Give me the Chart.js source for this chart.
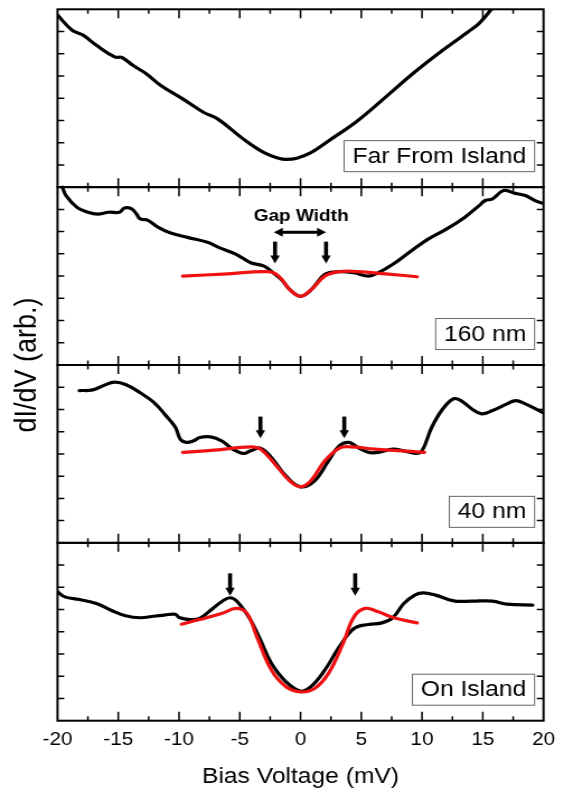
<!DOCTYPE html>
<html>
<head>
<meta charset="utf-8">
<script src="https://cdn.jsdelivr.net/npm/chart.js@4.4.1/dist/chart.umd.min.js"></script>
<style>
  html, body { margin: 0; padding: 0; background: #fff; }
  #plot { display: block; }
</style>
</head>
<body>
<canvas id="plot" width="504" height="792" style="width:564px;height:792px"></canvas>
<script>
// dI/dV spectra, four stacked panels on one shared bias axis.
// The source figure is stretched ~12% horizontally, so the canvas is drawn
// at 504px wide and shown at 564px.

/* ==============================
   DATA (bias in mV, dI/dV in panel units 0..8)
============================== */
const farBias = [-20, -18.8, -17.9, -16.8, -15.3, -14.7, -13.8, -12.7, -11.5, -9.7, -8.0, -6.8, -4.7, -3.0, -1.8, -1.2, -0.3, 0.85, 2.3, 4.7, 7.0, 9.4, 11.7, 13.8, 14.7, 15.7, 16.5];
const farDidv = [7.74, 7.06, 6.84, 6.38, 5.86, 5.83, 5.48, 5.10, 4.57, 3.97, 3.37, 3.06, 2.16, 1.55, 1.30, 1.25, 1.30, 1.55, 2.08, 2.99, 4.05, 5.18, 6.16, 6.99, 7.37, 8.0, 8.6];

const bias160 = [-19.6, -19.3, -18.4, -17.5, -16.7, -15.8, -14.9, -14.5, -13.9, -13.5, -13.2, -12.6, -11.7, -10.8, -9.3, -7.6, -6.7, -5.3, -4.1, -3.0, -2.1, -1.5, -0.9, 0, 0.9, 2.0, 3.2, 4.4, 5.6, 6.4, 7.6, 9.1, 10.5, 12.0, 13.5, 14.7, 15.2, 15.8, 16.7, 17.6, 18.5, 19.4, 19.9];
const didv160 = [8.0, 7.62, 7.09, 6.87, 6.79, 6.87, 6.87, 7.06, 7.02, 6.79, 6.57, 6.52, 6.19, 5.96, 5.74, 5.51, 5.28, 4.98, 4.60, 4.45, 4.08, 3.80, 3.40, 3.09, 3.40, 4.08, 4.20, 4.15, 4.0, 4.15, 4.53, 5.13, 5.66, 6.11, 6.64, 7.17, 7.40, 7.47, 7.85, 7.73, 7.62, 7.37, 7.28];
const fitBias160 = [-9.7, -6, -2.7, -1.8, -0.9, 0, 0.9, 2.0, 3.2, 4.7, 7, 9.6];
const fitDidv160 = [4.0, 4.1, 4.2, 4.0, 3.40, 3.09, 3.40, 4.0, 4.2, 4.2, 4.1, 3.97];

const bias40 = [-18.2, -17.1, -16.2, -15.3, -14.4, -13.2, -12.1, -11.2, -10.3, -9.9, -9.4, -8.8, -8.3, -7.4, -6.5, -5.6, -4.7, -4.1, -3.3, -2.4, -1.2, 0, 1.15, 2.3, 3.2, 4.0, 4.7, 5.6, 6.4, 7.6, 8.5, 9.5, 10.0, 10.8, 11.7, 12.6, 13.2, 14.1, 14.9, 15.8, 17.0, 17.7, 18.5, 19.9];
const didv40 = [6.85, 6.88, 7.08, 7.23, 7.12, 6.75, 6.33, 5.80, 5.20, 4.67, 4.52, 4.59, 4.74, 4.77, 4.59, 4.22, 4.02, 4.14, 4.26, 3.84, 3.01, 2.52, 2.79, 3.69, 4.37, 4.52, 4.29, 4.07, 4.07, 4.22, 4.14, 4.02, 4.14, 5.20, 6.02, 6.48, 6.40, 6.02, 5.80, 5.95, 6.25, 6.40, 6.25, 5.87];
const fitBias40 = [-9.7, -7.1, -4.1, -3.3, -2.1, -0.9, 0, 0.85, 2.0, 3.2, 4.1, 6.1, 10.2];
const fitDidv40 = [4.07, 4.17, 4.32, 4.22, 3.54, 2.79, 2.52, 2.79, 3.69, 4.26, 4.32, 4.22, 4.07];

const onBias = [-20, -19.4, -18.2, -16.8, -15.6, -14.4, -13.2, -12.1, -11.2, -10.3, -10.0, -9.1, -8.3, -7.4, -6.5, -5.8, -5.2, -4.1, -3.3, -2.4, -1.2, 0, 0.85, 2.0, 3.2, 4.4, 5.6, 6.7, 7.6, 8.5, 9.4, 10.1, 11.1, 12.6, 14.1, 15.8, 17.0, 19.1];
const onDidv = [5.80, 5.57, 5.45, 5.27, 4.97, 4.72, 4.63, 4.70, 4.75, 4.79, 4.64, 4.55, 4.60, 4.97, 5.35, 5.53, 5.35, 4.52, 3.63, 2.58, 1.75, 1.33, 1.53, 2.28, 3.33, 4.15, 4.33, 4.40, 4.64, 5.27, 5.65, 5.75, 5.65, 5.39, 5.38, 5.38, 5.24, 5.20];
const fitBiasOn = [-9.8, -8.3, -6.5, -5.3, -4.4, -3.6, -2.4, -1.2, 0, 1.15, 2.3, 3.5, 4.4, 5.3, 6.4, 7.6, 9.6];
const fitDidvOn = [4.34, 4.55, 4.82, 5.05, 4.82, 3.78, 2.28, 1.53, 1.30, 1.45, 2.13, 3.48, 4.67, 5.05, 4.90, 4.64, 4.40];

const biasTicks = [-20, -15, -10, -5, 0, 5, 10, 15, 20];
const panelLabels = ["Far From Island", "160 nm", "40 nm", "On Island"];

// coherence-peak arrows: panel index, bias, top and tip (panel units)
const arrowPanel = [1, 1, 2, 2, 3, 3];
const arrowBias = [-2.1, 2.1, -3.3, 3.6, -5.8, 4.5];
const arrowTop = [5.55, 5.55, 5.68, 5.68, 6.63, 6.63];
const arrowTip = [4.57, 4.57, 4.71, 4.71, 5.62, 5.62];
const gapSpan = [-2.2, 2.1];   // "Gap Width" double arrow, panel 1
const gapLevel = 5.97;
const gapTextLevel = 6.7;

/* ==============================
   HELPERS
============================== */
const PANEL_SPAN = 8;
const FONT = "'Liberation Sans', Arial, sans-serif";

function panelBase(panel) {
  return (3 - panel) * PANEL_SPAN;
}

function points(xs, ys, panel) {
  return xs.map((x, i) => ({ x, y: ys[i] + panelBase(panel) }));
}

function curve(xs, ys, panel, color, order) {
  return {
    data: points(xs, ys, panel),
    borderColor: color,
    borderWidth: 3.2,
    pointRadius: 0,
    tension: 0.4,
    fill: false,
    borderJoinStyle: "round",
    borderCapStyle: "round",
    order
  };
}

function downArrow(ctx, x, top, tip) {
  ctx.fillRect(x - 1.8, top, 3.6, tip - top - 7);
  ctx.beginPath();
  ctx.moveTo(x - 4.2, tip - 8);
  ctx.lineTo(x + 4.2, tip - 8);
  ctx.lineTo(x, tip);
  ctx.closePath();
  ctx.fill();
}

/* ==============================
   PANEL FRAMES, TICKS, LABELS
============================== */
const panelsPlugin = {
  id: "panels",
  afterDatasetsDraw(chart) {
    const { ctx, chartArea, scales: { x, y } } = chart;
    ctx.save();

    for (let p = 0; p < 4; p++) {
      const top = y.getPixelForValue(panelBase(p) + PANEL_SPAN);
      const bottom = y.getPixelForValue(panelBase(p));

      ctx.strokeStyle = "#000";
      ctx.lineWidth = 1.5;
      ctx.beginPath();
      for (let v = -17.5; v < 20; v += 2.5) {
        const px = x.getPixelForValue(v);
        const len = v % 5 === 0 ? 9 : 4.5;
        ctx.moveTo(px, bottom); ctx.lineTo(px, bottom - len);
        ctx.moveTo(px, top); ctx.lineTo(px, top + len);
      }
      for (let k = 1; k < PANEL_SPAN; k++) {
        const py = y.getPixelForValue(panelBase(p) + k);
        ctx.moveTo(chartArea.left, py); ctx.lineTo(chartArea.left + 6, py);
        ctx.moveTo(chartArea.right, py); ctx.lineTo(chartArea.right - 6, py);
      }
      ctx.stroke();

      ctx.lineWidth = 2;
      ctx.strokeRect(chartArea.left, top, chartArea.right - chartArea.left, bottom - top);

      // boxed panel label
      ctx.font = `22px ${FONT}`;
      const w = ctx.measureText(panelLabels[p]).width + 15;
      const bx = chartArea.right - 8.5 - w;
      const by = bottom - 16 - 31;
      ctx.fillStyle = "#fff";
      ctx.fillRect(bx, by, w, 31);
      ctx.strokeStyle = "#666";
      ctx.lineWidth = 1;
      ctx.strokeRect(bx + 0.5, by + 0.5, w, 31);
      ctx.fillStyle = "#000";
      ctx.textAlign = "center";
      ctx.textBaseline = "middle";
      ctx.fillText(panelLabels[p], bx + w / 2 + 0.5, by + 16.5);
    }

    // arrows marking the coherence peaks
    ctx.fillStyle = "#000";
    arrowBias.forEach((b, i) => {
      const base = panelBase(arrowPanel[i]);
      downArrow(ctx, x.getPixelForValue(b),
        y.getPixelForValue(base + arrowTop[i]),
        y.getPixelForValue(base + arrowTip[i]));
    });

    // gap width double arrow
    const gy = y.getPixelForValue(panelBase(1) + gapLevel);
    const gx0 = x.getPixelForValue(gapSpan[0]);
    const gx1 = x.getPixelForValue(gapSpan[1]);
    ctx.fillRect(gx0 + 6, gy - 1.5, gx1 - gx0 - 12, 3);
    ctx.beginPath();
    ctx.moveTo(gx0, gy); ctx.lineTo(gx0 + 8, gy - 4.5); ctx.lineTo(gx0 + 8, gy + 4.5);
    ctx.closePath();
    ctx.moveTo(gx1, gy); ctx.lineTo(gx1 - 8, gy - 4.5); ctx.lineTo(gx1 - 8, gy + 4.5);
    ctx.closePath();
    ctx.fill();

    ctx.font = `bold 17px ${FONT}`;
    ctx.textAlign = "center";
    ctx.textBaseline = "middle";
    ctx.fillText("Gap Width", x.getPixelForValue(0.05), y.getPixelForValue(panelBase(1) + gapTextLevel));

    ctx.restore();
  }
};

/* ==============================
   CHART
============================== */
new Chart(document.getElementById("plot"), {
  type: "line",
  data: {
    datasets: [
      curve(farBias, farDidv, 0, "#000", 1),
      curve(bias160, didv160, 1, "#000", 1),
      curve(bias40, didv40, 2, "#000", 1),
      curve(onBias, onDidv, 3, "#000", 1),
      curve(fitBias160, fitDidv160, 1, "#ee1111", 0),
      curve(fitBias40, fitDidv40, 2, "#ee1111", 0),
      curve(fitBiasOn, fitDidvOn, 3, "#ee1111", 0)
    ]
  },
  options: {
    responsive: false,
    animation: false,
    devicePixelRatio: 1,
    layout: { padding: { left: 0, right: 14.9, top: 9.3, bottom: 0 } },
    plugins: { legend: { display: false }, tooltip: { enabled: false } },
    scales: {
      x: {
        type: "linear",
        min: -20,
        max: 20,
        afterBuildTicks: axis => { axis.ticks = biasTicks.map(value => ({ value })); },
        grid: { display: false, drawTicks: false },
        border: { display: false },
        ticks: { color: "#000", padding: 8, maxRotation: 0, font: { family: FONT, size: 18.5 } },
        title: {
          display: true,
          text: "Bias Voltage (mV)",
          color: "#000",
          font: { family: FONT, size: 22 },
          padding: { top: 4.9, bottom: 1.8 }
        }
      },
      y: {
        type: "linear",
        min: 0,
        max: 4 * PANEL_SPAN,
        grid: { display: false, drawTicks: false },
        border: { display: false },
        ticks: { display: false },
        title: {
          display: true,
          text: "dI/dV (arb.)",
          color: "#000",
          font: { family: FONT, size: 27 },
          padding: { top: 8.8, bottom: 10.2 }
        }
      }
    }
  },
  plugins: [panelsPlugin]
});
</script>
</body>
</html>
